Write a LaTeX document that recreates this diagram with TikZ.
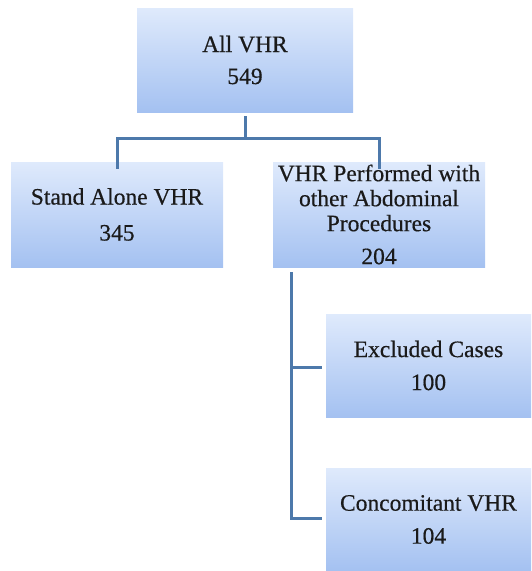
\documentclass[tikz,border=0pt]{standalone}
\usepackage{fontspec}
\setmainfont{Liberation Serif}
\newfontfamily\boxfont{Liberation Serif}[FakeBold=0.5]
\definecolor{boxtop}{HTML}{DFEAFC}
\definecolor{boxbot}{HTML}{A4C1F1}
\definecolor{linec}{HTML}{4D79AB}
\definecolor{txt}{HTML}{1A1A1A}
\tikzset{
  box/.style={rectangle, inner sep=0pt, top color=boxtop, bottom color=boxbot, draw=none,
    align=center, text=txt, font=\boxfont\fontsize{23.5}{25}\selectfont},
  conn/.style={draw=linec, line width=3pt}
}
\begin{document}
\begin{tikzpicture}[x=1pt,y=-1pt]
\useasboundingbox (0,0) rectangle (531,571);
\node[box, minimum width=216pt, minimum height=104pt] (all) at (245,60) {All VHR\\[7pt]549};
\node[box, minimum width=212pt, minimum height=105pt] (alone) at (117,214.5) {Stand Alone VHR\\[11pt]345};
\node[box, minimum width=212pt, minimum height=105pt] (perf) at (379,214.5) {VHR Performed with\\other Abdominal\\Procedures\\[8pt]204};
\node[box, minimum width=205pt, minimum height=103pt] (excl) at (428.5,365.5) {Excluded Cases\\[8pt]100};
\node[box, minimum width=205pt, minimum height=103pt] (conc) at (428.5,519.5) {Concomitant VHR\\[8pt]104};
\coordinate (j1) at (245,138);
\coordinate (jl) at (117,138);
\coordinate (jr) at (379,138);
\coordinate (v1) at (291,518);
\coordinate (v2) at (291,367);
\draw[conn] ([yshift=-4pt]all.south) -- (j1);
\draw[conn] ([yshift=-7pt]alone.north) |- (jr) -- ([yshift=-7pt]perf.north);
\draw[conn] ([xshift=-88pt,yshift=-5pt]perf.south) -- (v1) -- ([xshift=-4pt]v1 -| conc.west);
\draw[conn] (v2) -- ([xshift=-4pt]v2 -| excl.west);
\end{tikzpicture}
\end{document}
